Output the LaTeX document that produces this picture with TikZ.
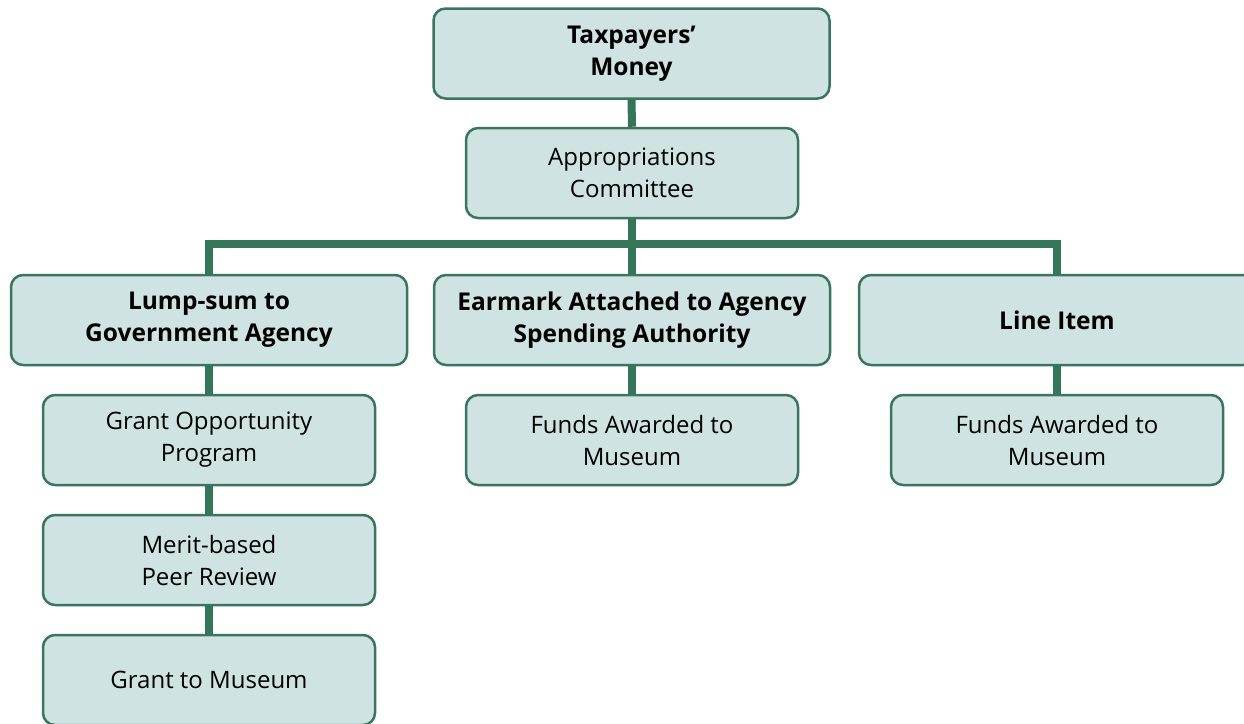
\documentclass[tikz,border=0pt]{standalone}
\usepackage{fontspec}
\setmainfont{Open Sans}
\definecolor{boxfill}{HTML}{D0E3E3}
\definecolor{boxline}{HTML}{3A7560}
\definecolor{linkline}{HTML}{357558}
\tikzset{
  fundbox/.style={draw=boxline, line width=2.5pt, fill=boxfill, rounded corners=12pt,
    minimum height=90pt, align=center, font=\fontsize{24}{32}\selectfont, inner sep=0pt},
  wide/.style={fundbox, minimum width=396pt},
  narrow/.style={fundbox, minimum width=332pt},
  bold/.style={font=\fontsize{24.5}{32}\selectfont\bfseries},
  link/.style={linkline, line width=8pt}
}
\begin{document}
\begin{tikzpicture}[x=1pt, y=-1pt]
    \useasboundingbox (0,0) rectangle (1244,723);
    \clip (0,0) rectangle (1244,723);

    % Where the three branches meet
    \coordinate (bus) at (632,244);

    % Top of the chain
    \node[wide, bold] (tax) at (631.5,53.5) {Taxpayers'\\Money};
    \node[narrow] (appr) at (632,173) {Appropriations\\Committee};

    % Three ways of funding
    \node[wide, bold] (lump) at (209,320) {Lump-sum to\\Government Agency};
    \node[wide, bold] (earmark) at (632,320) {Earmark Attached to Agency\\Spending Authority};
    \node[wide, bold] (lineitem) at (1057,320) {Line Item};

    % Lump-sum branch
    \node[narrow] (grantopp) at (209,440) {Grant Opportunity\\Program};
    \node[narrow] (merit) at (209,560) {Merit-based\\Peer Review};
    \node[narrow] (grant) at (209,680) {Grant to Museum};

    % Other branches
    \node[narrow] (fundsmid) at (632,440) {Funds Awarded to\\Museum};
    \node[narrow] (fundsright) at (1057,440) {Funds Awarded to\\Museum};

    % Links
    \draw[link] (tax.south) -- (appr.north);
    \draw[link] (appr.south) -- (bus);
    \draw[link] (lump.north) -- (lump |- bus) -- (lineitem |- bus) -- (lineitem.north);
    \draw[link] (bus) -- (earmark.north);
    \draw[link] (lump.south) -- (grantopp.north);
    \draw[link] (grantopp.south) -- (merit.north);
    \draw[link] (merit.south) -- (grant.north);
    \draw[link] (earmark.south) -- (fundsmid.north);
    \draw[link] (lineitem.south) -- (fundsright.north);
\end{tikzpicture}
\end{document}
